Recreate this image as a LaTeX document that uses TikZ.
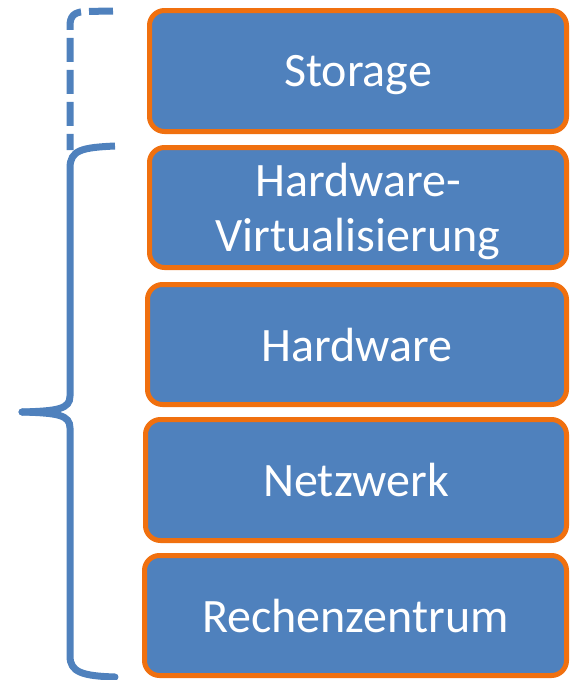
\documentclass[tikz,border=0pt]{standalone}
\usepackage{fontspec}
\setmainfont{Carlito}
\definecolor{layerblue}{HTML}{4F81BD}
\definecolor{layerorange}{HTML}{F0700F}
\tikzset{
  layer/.style={draw=layerorange, fill=layerblue, line width=5pt,
    rounded corners=15pt, inner sep=0pt, text=white, align=center,
    text depth=0pt, font=\fontsize{48}{55}\selectfont},
  bracestroke/.style={draw=layerblue, line width=7pt}
}
\begin{document}
\begin{tikzpicture}[x=1pt,y=-1pt]
  \useasboundingbox (0,0) rectangle (570,680);

  % stack of layers (outer edges minus half the stroke width)
  \node[layer, minimum width=417pt, minimum height=121pt] (storage) at (358,71) {Storage};
  \node[layer, minimum width=417pt, minimum height=120pt] (hwvirt) at (358,207.5) {Hardware-\\Virtualisierung};
  \node[layer, minimum width=419pt, minimum height=120pt] (hw) at (357,344.5) {Hardware};
  \node[layer, minimum width=421pt, minimum height=121pt] (net) at (356,480) {Netzwerk};
  \node[layer, minimum width=422pt, minimum height=120pt] (dc) at (355.5,615.5) {Rechenzentrum};

  % optional extension of the brace up to the storage layer
  \coordinate (dtop) at (113,11);
  \coordinate (dbot) at (70,150);
  \draw[bracestroke, dash pattern=on 24pt off 8pt]
    (dtop) -- (84,11.5) .. controls (74,12.5) and (70,16) .. (70,26) -- (dbot);

  % curly brace spanning the lower four layers
  \coordinate (btop) at (115,146);
  \coordinate (btip) at (22,412);
  \coordinate (bbot) at (115,677);
  \draw[bracestroke]
    (btop) .. controls (82,147.5) and (70,150) .. (70,168) -- (70,396)
    .. controls (70,409) and (58,411) .. (btip);
  \draw[bracestroke, line cap=round]
    (btip) .. controls (58,413) and (70,415) .. (70,428) -- (70,656)
    .. controls (70,672) and (82,676) .. (bbot);
  \fill[layerblue] (btip) circle (3.5pt);
\end{tikzpicture}
\end{document}
